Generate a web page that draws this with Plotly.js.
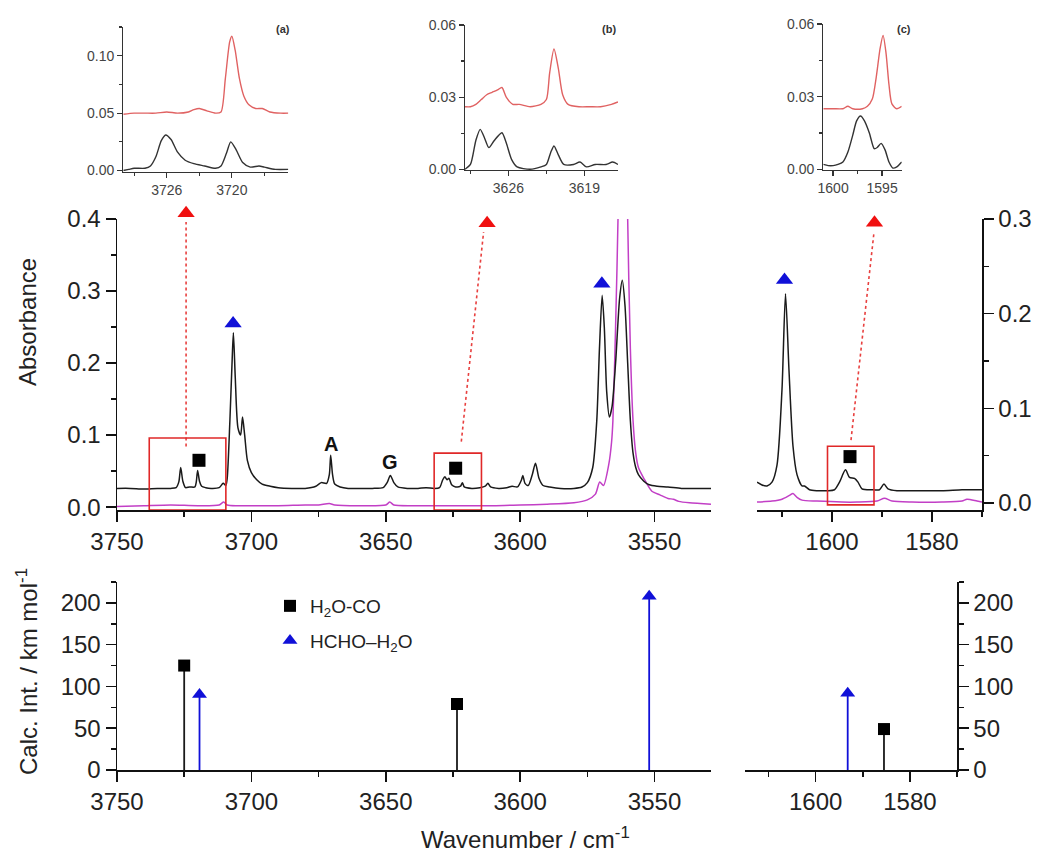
<!DOCTYPE html>
<html><head><meta charset="utf-8">
<script src="https://cdn.plot.ly/plotly-3.0.1.min.js"></script>
<style>html,body{margin:0;padding:0;background:#fff}#chart{width:1050px;height:863px}</style>
</head><body><div id="chart"></div>
<script>
// ---------- OH-stretch region, experimental (black) ----------
const ohWn  = [3750,3745,3740,3735,3730,3728,3727,3726.3,3725.5,3724.5,3723,3721,3720.5,3720,3719.3,3718.5,3717,3715,3712,3710.5,3709.5,3709,3708,3707.2,3706.7,3706,3705,3704,3703.3,3702.5,3701.5,3700,3698,3696,3693,3690,3685,3680,3676,3674,3672,3671,3670.5,3669.8,3669,3667,3664,3660,3655,3651,3649.5,3648.3,3647,3645.5,3642,3638,3635,3632,3630,3628.8,3628,3627.2,3626.5,3625.5,3624,3622.2,3621.5,3620.8,3618,3615,3613,3612,3611,3608,3605,3603,3601,3599.5,3599,3598.2,3597,3595.5,3594.3,3593,3591.5,3589,3585,3580,3577,3575,3573,3571.5,3570.5,3569.5,3568.7,3567.8,3566.8,3565.8,3564.5,3563,3562,3561,3560,3559,3558,3557,3556,3554,3552,3549,3545,3540,3535,3529];
const ohAbs = [0.026,0.026,0.025,0.026,0.026,0.027,0.035,0.055,0.036,0.027,0.028,0.028,0.035,0.051,0.036,0.029,0.027,0.026,0.027,0.033,0.030,0.040,0.120,0.200,0.242,0.180,0.110,0.100,0.125,0.100,0.065,0.048,0.038,0.032,0.029,0.027,0.026,0.026,0.029,0.034,0.033,0.045,0.072,0.045,0.032,0.028,0.026,0.026,0.026,0.027,0.034,0.044,0.034,0.028,0.026,0.026,0.027,0.026,0.027,0.038,0.042,0.038,0.040,0.031,0.028,0.029,0.034,0.028,0.026,0.027,0.029,0.033,0.028,0.026,0.027,0.029,0.028,0.038,0.044,0.033,0.030,0.045,0.061,0.040,0.030,0.028,0.026,0.026,0.028,0.034,0.055,0.120,0.220,0.294,0.250,0.160,0.125,0.140,0.200,0.290,0.315,0.280,0.200,0.120,0.075,0.055,0.045,0.036,0.031,0.029,0.028,0.026,0.026,0.026];
// ---------- OH-stretch region, reference spectrum (purple) ----------
const ohRefWn  = [3750,3740,3730,3720,3712,3710.3,3709,3705,3700,3690,3680,3675,3671,3669,3660,3650,3648.5,3647,3640,3630,3620,3610,3600,3590,3580,3575,3572,3570.4,3569,3567,3566,3565.5,3564.5,3563.6,3562.5,3561.8,3561,3560,3559,3558,3557,3556,3554,3551,3548,3545,3543,3541,3537,3533,3529];
const ohRefAbs = [0.001,0.002,0.003,0.002,0.003,0.007,0.003,0.002,0.002,0.002,0.003,0.003,0.005,0.003,0.002,0.003,0.007,0.003,0.002,0.002,0.002,0.002,0.003,0.004,0.006,0.010,0.018,0.035,0.030,0.060,0.090,0.120,0.250,0.400,0.750,1.000,0.750,0.400,0.220,0.120,0.075,0.055,0.040,0.022,0.017,0.012,0.011,0.008,0.006,0.005,0.004];
// ---------- bending region, experimental (black) ----------
const bendWn  = [1615,1614,1613,1612,1611,1610,1609.3,1608.6,1607.8,1607,1606,1605.5,1604.5,1603,1601,1599.5,1598.5,1597.3,1596.5,1595.5,1594.8,1594,1592,1590.5,1589.6,1588.8,1587,1582,1578,1574,1572,1570];
const bendAbs = [0.022,0.019,0.018,0.022,0.040,0.120,0.221,0.140,0.060,0.030,0.018,0.018,0.014,0.013,0.013,0.014,0.022,0.035,0.027,0.026,0.022,0.015,0.014,0.014,0.020,0.015,0.013,0.013,0.013,0.014,0.014,0.014];
// ---------- bending region, reference (purple) ----------
const bendRefWn  = [1615,1612,1610,1608.5,1607.8,1607,1606,1603,1598,1595,1591,1589.5,1588,1584,1578,1574,1573,1571,1570];
const bendRefAbs = [0.001,0.002,0.004,0.008,0.010,0.006,0.003,0.002,0.001,0.001,0.002,0.005,0.002,0.001,0.001,0.002,0.004,0.002,0.001];
// ---------- inset (a) ----------
const insAWnRed = [3730,3729,3728,3727,3726,3725,3724,3723.5,3723,3722.3,3721.5,3721,3720.6,3720.2,3720,3719.7,3719.3,3718.9,3718.4,3717.8,3717.2,3716.5,3715.5,3714.8];
const insARed   = [0.049,0.050,0.050,0.050,0.051,0.050,0.051,0.053,0.054,0.052,0.050,0.051,0.080,0.112,0.117,0.105,0.080,0.065,0.057,0.054,0.054,0.051,0.050,0.050];
const insAWnBlk = [3730,3729.5,3729,3728,3727.5,3727,3726.5,3726.1,3725.6,3725,3724.3,3723.5,3722.5,3721.5,3721,3720.5,3720.1,3719.6,3719,3718.3,3717.5,3717,3716,3714.8];
const insABlk   = [0.000,0.001,0.002,0.002,0.004,0.012,0.026,0.031,0.027,0.016,0.009,0.006,0.004,0.002,0.004,0.015,0.025,0.018,0.007,0.003,0.004,0.003,0.001,0.001];
// ---------- inset (b) ----------
const insBWnRed = [3630,3629.5,3629,3628.5,3628,3627.5,3627,3626.6,3626.2,3625.6,3625,3624,3623,3622.5,3622.2,3621.8,3621.4,3621,3620.5,3619.5,3618.5,3617.5,3616.5,3615.9];
const insBRed   = [0.026,0.026,0.027,0.029,0.031,0.032,0.033,0.034,0.030,0.027,0.027,0.026,0.027,0.029,0.040,0.050,0.042,0.031,0.027,0.026,0.026,0.026,0.027,0.028];
const insBWnBlk = [3630,3629.5,3629,3628.6,3628.2,3627.8,3627.3,3626.6,3626.2,3625.7,3625.2,3624,3623,3622.5,3622.1,3621.8,3621.4,3620.9,3620,3619.4,3618.8,3618,3617,3616.4,3615.9];
const insBBlk   = [0.000,0.002,0.012,0.0166,0.013,0.009,0.012,0.0152,0.011,0.004,0.001,0.000,0.001,0.002,0.007,0.0097,0.006,0.002,0.002,0.003,0.001,0.002,0.002,0.003,0.002];
// ---------- inset (c) ----------
const insCWnRed = [1601,1600,1599,1598.5,1598,1597,1596.5,1596,1595.6,1595.2,1594.9,1594.6,1594.3,1594,1593.5,1593];
const insCRed   = [0.025,0.025,0.025,0.026,0.025,0.025,0.026,0.029,0.038,0.050,0.0553,0.048,0.035,0.027,0.025,0.026];
const insCWnBlk = [1601,1600.5,1600,1599.5,1599,1598.5,1598,1597.6,1597.2,1596.8,1596.3,1595.8,1595.5,1595.1,1594.7,1594.3,1593.9,1593.5,1593];
const insCBlk   = [0.002,0.0015,0.0015,0.002,0.003,0.007,0.014,0.020,0.022,0.020,0.015,0.0085,0.009,0.0107,0.008,0.003,0.0005,0.001,0.003];
// ---------- calculated sticks ----------
const h2ocoWnOH = [3725, 3623.5], h2ocoIntOH = [125, 79];
const h2ocoWnBend = [1585.5], h2ocoIntBend = [49];
const hchoWnOH = [3719.3, 3552], hchoIntOH = [90.5, 208];
const hchoWnBend = [1593.2], hchoIntBend = [92];
// ---------- band assignment markers on the spectrum ----------
const hchoMarkWn = [3706.8, 3569.6], hchoMarkAbs = [0.255, 0.31];
const hchoMarkBendWn = [1609.5], hchoMarkBendAbs = [0.2355];
const h2ocoMarkWn = [3719.5, 3624], h2ocoMarkAbs = [0.065, 0.054];
const h2ocoMarkBendWn = [1596.4], h2ocoMarkBendAbs = [0.049];
// ---------- zoom arrows (start -> end) ----------
const arrowOHWn0 = [3724.3, 3621.9], arrowOHAbs0 = [0.084, 0.091];
const arrowOHWn1 = [3724.3, 3613.6], arrowOHAbs1 = [0.396, 0.382];
const arrowTipOHWn = [3724.3, 3612.3], arrowTipOHAbs = [0.408, 0.394];
const arrowBWn0 = [1596.2], arrowBAbs0 = [0.0665];
const arrowBWn1 = [1591.6], arrowBAbs1 = [0.286];
const arrowTipBWn = [1591.5], arrowTipBAbs = [0.296];
// ---------- zoom boxes ----------
const boxOH = [[3738, 3709.5, -0.004, 0.096], [3632, 3614.4, -0.004, 0.075]];
const boxBend = [[1600.9, 1591.6, -0.002, 0.06]];
// ---------- text labels ----------
const bandLabels = [{t:'A', x:3670.5, y:0.088}, {t:'G', x:3648.3, y:0.063}, {t:'S', x:3561.5, y:0.419}];

const FONT = 'Liberation Sans, Arial, sans-serif';
const BLK = '#1a1a1a', PUR = '#c23fc6', RED = '#e8403f', BLUE = '#1010d8', INRED = '#e06262';
const px = v => v / 1050, py = v => 1 - v / 863;

function line(x, y, xa, ya, color, w) {
  return {type:'scatter', mode:'lines', x, y, xaxis:xa, yaxis:ya, line:{color, width:w||1.5, shape:'spline', smoothing:0.7}, showlegend:false, hoverinfo:'skip'};
}
function marks(x, y, xa, ya, symbol, color, size, extra) {
  return Object.assign({type:'scatter', mode:'markers', x, y, xaxis:xa, yaxis:ya, cliponaxis:false,
    marker:{symbol, color, size, line:{width:0}}, showlegend:false, hoverinfo:'skip'}, extra||{});
}
function sticks(wn, h, xa, ya, color) {
  const x = [], y = [];
  wn.forEach((w, i) => { x.push(w, w, null); y.push(0, h[i], null); });
  return {type:'scatter', mode:'lines', x, y, xaxis:xa, yaxis:ya, line:{color, width:1.8}, showlegend:false, hoverinfo:'skip', cliponaxis:false};
}
function segs(x0, y0, x1, y1, xa, ya) {
  const x = [], y = [];
  x0.forEach((v, i) => { x.push(v, x1[i], null); y.push(y0[i], y1[i], null); });
  return {type:'scatter', mode:'lines', x, y, xaxis:xa, yaxis:ya, cliponaxis:false, line:{color:RED, width:1.6, dash:'dot'}, showlegend:false, hoverinfo:'skip'};
}

const traces = [
  line(ohRefWn, ohRefAbs, 'x', 'y', PUR),
  line(ohWn, ohAbs, 'x', 'y', BLK),
  line(bendRefWn, bendRefAbs, 'x2', 'y2', PUR),
  line(bendWn, bendAbs, 'x2', 'y2', BLK),
  // arrows drawn on an invisible, taller copy of the main axes so the tips above 0.4 are kept
  segs(arrowOHWn0, arrowOHAbs0, arrowOHWn1, arrowOHAbs1, 'x8', 'y8'),
  segs(arrowBWn0, arrowBAbs0, arrowBWn1, arrowBAbs1, 'x2', 'y2'),
  marks(arrowTipOHWn, arrowTipOHAbs, 'x8', 'y8', 'triangle-up', '#f01010', 15),
  marks(arrowTipBWn, arrowTipBAbs, 'x2', 'y2', 'triangle-up', '#f01010', 15),
  marks(hchoMarkWn, hchoMarkAbs, 'x', 'y', 'triangle-up', BLUE, 15),
  marks(hchoMarkBendWn, hchoMarkBendAbs, 'x2', 'y2', 'triangle-up', BLUE, 15),
  marks(h2ocoMarkWn, h2ocoMarkAbs, 'x', 'y', 'square', '#000', 13),
  marks(h2ocoMarkBendWn, h2ocoMarkBendAbs, 'x2', 'y2', 'square', '#000', 13),
  // calculated
  sticks(h2ocoWnOH, h2ocoIntOH, 'x3', 'y3', BLK),
  sticks(h2ocoWnBend, h2ocoIntBend, 'x4', 'y4', BLK),
  sticks(hchoWnOH, hchoIntOH, 'x3', 'y3', BLUE),
  sticks(hchoWnBend, hchoIntBend, 'x4', 'y4', BLUE),
  marks(h2ocoWnOH, h2ocoIntOH, 'x3', 'y3', 'square', '#000', 12, {showlegend:true, name:'H<sub>2</sub>O-CO', legendgroup:'a'}),
  marks(h2ocoWnBend, h2ocoIntBend, 'x4', 'y4', 'square', '#000', 12),
  marks(hchoWnOH, hchoIntOH, 'x3', 'y3', 'triangle-up', BLUE, 13, {showlegend:true, name:'HCHO–H<sub>2</sub>O', legendgroup:'b'}),
  marks(hchoWnBend, hchoIntBend, 'x4', 'y4', 'triangle-up', BLUE, 13),
  // insets
  line(insAWnRed, insARed, 'x5', 'y5', INRED, 1.4),
  line(insAWnBlk, insABlk, 'x5', 'y5', '#333', 1.4),
  line(insBWnRed, insBRed, 'x6', 'y6', INRED, 1.4),
  line(insBWnBlk, insBBlk, 'x6', 'y6', '#333', 1.4),
  line(insCWnRed, insCRed, 'x7', 'y7', INRED, 1.4),
  line(insCWnBlk, insCBlk, 'x7', 'y7', '#333', 1.4)
];

function ax(extra) {
  return Object.assign({showline:true, linecolor:'#111', linewidth:1.5, ticks:'outside', ticklen:10, tickwidth:1.5,
    tickcolor:'#111', showgrid:false, zeroline:false, fixedrange:true, tickfont:{family:FONT, size:24, color:'#222'}}, extra);
}
function minor(d, t0) { const m = {ticks:'outside', ticklen:5, tickwidth:1.5, tickcolor:'#111', dtick:d, showgrid:false}; if (t0 !== undefined) m.tick0 = t0; return m; }
function iax(extra) {
  return Object.assign({showline:true, linecolor:'#333', linewidth:1.2, ticks:'outside', ticklen:5, tickwidth:1.2,
    tickcolor:'#333', showgrid:false, zeroline:false, fixedrange:true, tickfont:{family:FONT, size:14, color:'#444'}}, extra);
}
function iminor(d, t0) { return {ticks:'outside', ticklen:3, tickwidth:1.2, tickcolor:'#333', dtick:d, tick0:t0, showgrid:false}; }

const topDom = [py(510), py(219)], botDom = [py(770), py(582)];
const layout = {
  width:1050, height:863, margin:{l:0, r:0, t:0, b:0}, paper_bgcolor:'#fff', plot_bgcolor:'rgba(0,0,0,0)',
  font:{family:FONT, color:'#222'},
  xaxis: ax({domain:[px(117), px(711)], range:[3750, 3529], anchor:'y', dtick:50, tick0:3750, minor:minor(25, 3750)}),
  yaxis: ax({domain:topDom, range:[-0.004, 0.4], anchor:'x', dtick:0.1, tick0:0, tickformat:'.1f', minor:minor(0.05, 0)}),
  xaxis2: ax({domain:[px(757), px(982)], range:[1615, 1570], anchor:'y2', tickmode:'array', tickvals:[1600, 1580], minor:minor(10, 1570)}),
  yaxis2: ax({domain:topDom, range:[-0.0074, 0.3], anchor:'x2', side:'right', dtick:0.1, tick0:0, tickformat:'.1f', minor:minor(0.05, 0)}),
  xaxis3: ax({domain:[px(117), px(711)], range:[3750, 3529], anchor:'y3', dtick:50, tick0:3750, minor:minor(25, 3750)}),
  yaxis3: ax({domain:botDom, range:[0, 225], anchor:'x3', dtick:50, tick0:0, minor:minor(25, 0)}),
  xaxis4: ax({domain:[px(745), px(957)], range:[1615, 1570], anchor:'y4', tickmode:'array', tickvals:[1600, 1580], minor:minor(10, 1570)}),
  yaxis4: ax({domain:botDom, range:[0, 225], anchor:'x4', side:'right', dtick:50, tick0:0, minor:minor(25, 0)}),
  xaxis5: iax({domain:[px(123.3), px(288.3)], range:[3730, 3714.8], anchor:'y5', tickmode:'array', tickvals:[3726, 3720], minor:iminor(3, 3720)}),
  yaxis5: iax({domain:[py(171.7), py(27)], range:[-0.001, 0.125], anchor:'x5', dtick:0.05, tick0:0, tickformat:'.2f', minor:iminor(0.025, 0)}),
  xaxis6: iax({domain:[px(465), px(618)], range:[3630, 3615.9], anchor:'y6', tickmode:'array', tickvals:[3626, 3619], minor:iminor(3.5, 3619)}),
  yaxis6: iax({domain:[py(170), py(25)], range:[-0.0003, 0.06], anchor:'x6', dtick:0.03, tick0:0, tickformat:'.2f', minor:iminor(0.015, 0)}),
  xaxis7: iax({domain:[px(823.3), px(901.7)], range:[1601, 1593], anchor:'y7', tickmode:'array', tickvals:[1600, 1595], minor:iminor(2.5, 1595)}),
  yaxis7: iax({domain:[py(170), py(24)], range:[-0.0003, 0.06], anchor:'x7', dtick:0.03, tick0:0, tickformat:'.2f', minor:iminor(0.015, 0)}),
  // invisible taller copy of the main panel (same scale, extends 19 px higher)
  xaxis8: {domain:[px(117), px(711)], range:[3750, 3529], anchor:'y8', visible:false, fixedrange:true},
  yaxis8: {domain:[py(510), py(200)], range:[-0.004, 0.4264], anchor:'x8', visible:false, fixedrange:true},
  showlegend:true,
  legend:{x:px(270), y:py(587), xanchor:'left', yanchor:'top', bgcolor:'rgba(0,0,0,0)', font:{family:FONT, size:19, color:'#222'},
          traceorder:'grouped', tracegroupgap:7, itemclick:false, itemdoubleclick:false},
  shapes:[], annotations:[]
};
const note = o => layout.annotations.push(Object.assign({xref:'paper', yref:'paper', showarrow:false, xanchor:'center', yanchor:'middle'}, o));
boxOH.forEach(b => layout.shapes.push({type:'rect', xref:'x', yref:'y', x0:b[0], x1:b[1], y0:b[2], y1:b[3], line:{color:'#e02828', width:1.6}}));
boxBend.forEach(b => layout.shapes.push({type:'rect', xref:'x2', yref:'y2', x0:b[0], x1:b[1], y0:b[2], y1:b[3], line:{color:'#e02828', width:1.6}}));
bandLabels.forEach(l => note({xref:'x', yref:'y', x:l.x, y:l.y, text:'<b>'+l.t+'</b>', font:{family:FONT, size:20, color:'#111'}}));
[['(a)', 283, 29], ['(b)', 609, 29], ['(c)', 904, 29]].forEach(a => note({x:px(a[1]), y:py(a[2]), text:'<b>'+a[0]+'</b>', font:{family:FONT, size:11, color:'#333'}}));
note({x:px(28), y:py(322), text:'Absorbance', textangle:-90, font:{family:FONT, size:24, color:'#222'}});
note({x:px(27), y:py(672), text:'Calc. Int. / km mol<sup>-1</sup>', textangle:-90, font:{family:FONT, size:24, color:'#222'}});
note({x:px(525), y:py(838), text:'Wavenumber / cm<sup>-1</sup>', font:{family:FONT, size:24, color:'#222'}});

Plotly.newPlot('chart', traces, layout, {staticPlot:true, displayModeBar:false});
</script></body></html>
